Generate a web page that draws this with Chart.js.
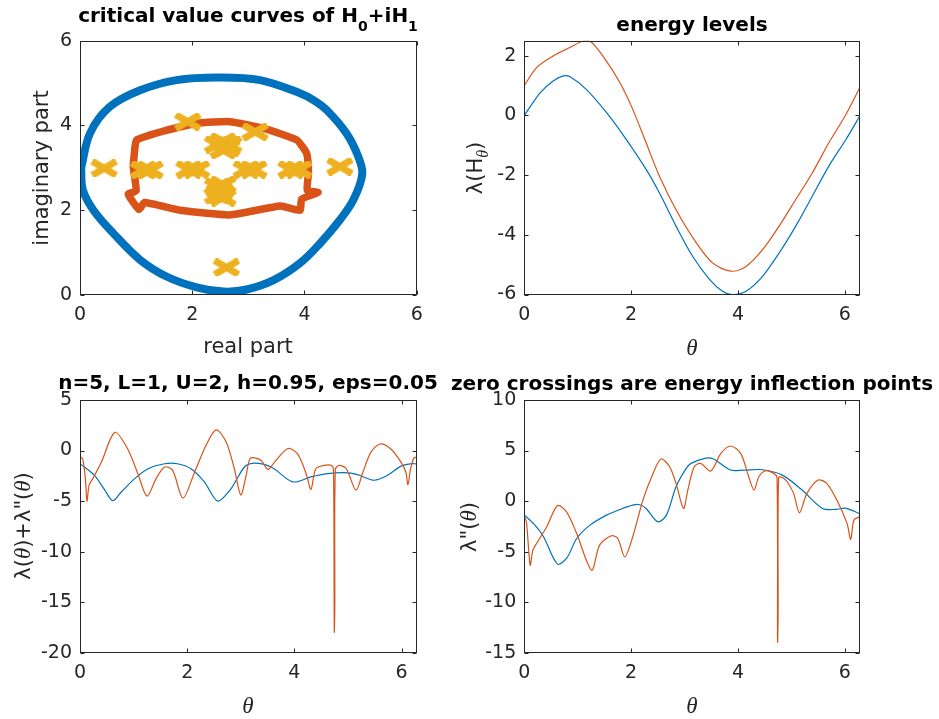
<!DOCTYPE html>
<html><head><meta charset="utf-8">
<script src="https://cdn.jsdelivr.net/npm/chart.js@4.4.1/dist/chart.umd.min.js"></script>
<style>
html,body{margin:0;padding:0;background:#fff;width:939px;height:719px;overflow:hidden}
canvas{position:absolute;left:0;top:0}
</style></head>
<body>
<canvas id="c1" width="939" height="719"></canvas>
<canvas id="c2" width="939" height="719"></canvas>
<canvas id="c3" width="939" height="719"></canvas>
<canvas id="c4" width="939" height="719"></canvas>
<script>
// ---------- DATA ----------
// Panel 1: critical value curves (real part, imaginary part)
const blueLoopX = [0.02,0.18,0.53,1.07,1.72,2.44,3.21,3.92,4.16,4.40,4.75,4.96,5.03,4.87,4.63,4.28,3.92,3.45,2.97,2.56,2.08,1.55,1.07,0.59,0.24,0.05,0.02];
const blueLoopY = [3.00,3.82,4.44,4.83,5.07,5.13,5.07,4.76,4.60,4.36,3.81,3.26,2.85,2.24,1.77,1.22,0.75,0.35,0.13,0.08,0.18,0.43,0.83,1.46,2.00,2.48,3.00];
const orangeLoopX = [0.98,1.01,1.55,2.08,2.67,3.27,3.86,4.04,4.07,4.05,4.24,3.95,3.92,3.57,2.67,1.78,1.15,1.05,0.86,1.00,0.95,0.98];
const orangeLoopY = [3.50,3.66,3.89,4.05,4.09,3.93,3.66,3.34,2.87,2.47,2.42,2.26,2.00,2.10,1.89,2.00,2.18,2.02,2.38,2.46,3.03,3.50];
const markX = [0.43,1.13,1.25,1.94,2.08,2.96,3.10,3.76,3.90,4.63,1.92,3.12,2.45,2.65,2.55,2.55,2.62,2.45,2.55,2.45,2.55,2.50,2.61];
const markY = [2.99,2.95,2.95,2.96,2.96,2.96,2.96,2.96,2.96,3.03,4.09,3.85,3.55,3.55,3.62,3.42,3.47,2.55,2.60,2.35,2.30,2.45,0.65];

// Panel 2: energy levels
const energyBlueX = [0,0.30,0.54,0.73,0.85,1.16,1.54,1.91,2.28,2.53,2.84,3.15,3.47,3.71,3.90,4.15,4.46,4.77,5.08,5.39,5.70,6.02,6.28];
const energyBlueY = [0,0.76,1.15,1.32,1.30,0.87,0.09,-0.81,-1.81,-2.60,-3.71,-4.72,-5.50,-5.89,-6.01,-5.89,-5.39,-4.61,-3.71,-2.71,-1.70,-0.81,-0.02];
const energyOrangeX = [0,0.23,0.54,0.85,1.10,1.23,1.47,1.79,2.03,2.28,2.53,2.84,3.22,3.53,3.87,4.15,4.46,4.77,5.08,5.39,5.70,6.02,6.28];
const energyOrangeY = [1.0,1.60,1.99,2.27,2.49,2.49,1.99,1.09,0.20,-0.92,-2.04,-3.16,-4.27,-4.95,-5.22,-5.06,-4.50,-3.71,-2.82,-1.93,-0.92,0.03,0.93];

// Panel 3: lambda + lambda''
const sumBlueX = [0,0.27,0.46,0.61,0.77,1.02,1.27,1.58,1.82,2.07,2.32,2.57,2.82,3.07,3.26,3.57,3.97,4.31,4.62,4.93,5.18,5.49,5.74,5.99,6.17,6.28];
const sumBlueY = [-1.31,-2.45,-3.90,-4.95,-4.10,-2.78,-1.80,-1.31,-1.31,-1.80,-3.10,-5.0,-3.76,-1.63,-1.24,-1.63,-3.10,-2.61,-2.29,-2.19,-2.39,-2.94,-2.45,-1.54,-1.31,-1.31];
const sumOrangeX = [0,0.05,0.10,0.13,0.17,0.24,0.40,0.65,0.89,1.08,1.25,1.42,1.58,1.73,1.92,2.14,2.35,2.54,2.73,2.88,3.00,3.10,3.17,3.26,3.38,3.51,3.63,3.88,4.06,4.22,4.31,4.40,4.56,4.69,4.73,4.745,4.755,4.765,4.84,4.97,5.15,5.28,5.43,5.60,5.80,5.99,6.08,6.12,6.17,6.23,6.28];
const sumOrangeY = [-0.65,-0.82,-2.78,-5.0,-3.43,-2.78,-1.14,1.80,0.16,-2.29,-4.50,-2.78,-1.63,-1.96,-4.70,-2.12,0.49,2.05,0.82,-1.80,-4.40,-2.45,-0.82,-0.72,-0.98,-1.86,-1.14,0.20,-0.33,-2.29,-3.84,-1.80,-1.47,-1.47,-1.86,-17.9,-15.5,-1.86,-1.47,-1.80,-3.92,-2.12,-0.16,0.65,0.16,-1.14,-2.12,-3.37,-1.80,-0.75,-0.65];

// Panel 4: lambda''
const d2BlueX = [0,0.17,0.36,0.62,0.80,0.98,1.23,1.54,1.79,2.03,2.16,2.28,2.50,2.66,2.84,3.03,3.12,3.40,3.55,3.86,4.11,4.46,4.83,5.20,5.58,5.83,6.01,6.28];
const d2BlueY = [-1.39,-2.21,-3.53,-6.24,-5.60,-3.70,-2.38,-1.39,-0.83,-0.40,-0.36,-0.73,-2.05,-1.39,1.42,3.23,3.73,4.25,4.13,3.07,3.07,3.10,2.57,1.09,-0.73,-0.82,-0.70,-1.25];
const d2OrangeX = [0,0.04,0.11,0.16,0.23,0.42,0.62,0.79,0.98,1.26,1.41,1.63,1.75,1.88,2.03,2.22,2.41,2.56,2.72,2.84,2.98,3.06,3.18,3.30,3.49,3.68,3.86,4.05,4.20,4.30,4.39,4.52,4.67,4.73,4.74,4.75,4.76,4.83,4.92,5.04,5.15,5.29,5.50,5.66,5.85,6.04,6.11,6.17,6.28];
const d2OrangeY = [-1.55,-2.05,-6.34,-4.85,-4.19,-2.54,-0.46,-1.06,-3.20,-6.83,-4.36,-3.43,-3.70,-5.51,-3.53,0.10,2.74,4.16,3.40,1.75,-0.73,1.09,3.40,3.73,2.97,4.72,5.45,4.72,2.41,1.09,2.41,3.00,2.74,2.34,-13.9,-11.6,2.34,2.34,1.91,0.76,-1.16,0.76,2.08,1.75,0.10,-2.21,-3.80,-1.88,-1.55];

// Tick values
const ticksP1X = [0,2,4,6], ticksP1Y = [0,2,4,6];
const ticksThetaX = [0,2,4,6];
const ticksP2Y = [-6,-4,-2,0,2];
const ticksP3Y = [-20,-15,-10,-5,0,5];
const ticksP4Y = [-15,-10,-5,0,5,10];

// ---------- STYLE ----------
const BLUE = '#0072BD', ORANGE = '#D95319', YELLOW = '#EDB120';
const AX = '#262626';
const SANS = "'DejaVu Sans', 'Liberation Sans', Arial, sans-serif";
const TICKFONT = { family: SANS, size: 19 };
const LBL = "21px " + SANS;
const TTL = "bold 20px " + SANS;
const TTLSUB = "bold 14px " + SANS;
const THETA = "italic 23px 'Liberation Serif', 'DejaVu Serif', serif";
const THETAS = "italic 16px 'Liberation Serif', 'DejaVu Serif', serif";
const LAM = "21px 'DejaVu Sans', sans-serif";

function pts(xs, ys) { return xs.map((x, i) => ({ x: x, y: ys[i] })); }

function xMarker() {
  const w = 28, h = 18, c = document.createElement('canvas');
  c.width = w; c.height = h;
  const g = c.getContext('2d');
  g.strokeStyle = YELLOW; g.lineWidth = 7;
  g.beginPath(); g.moveTo(2, 2); g.lineTo(w - 2, h - 2);
  g.moveTo(w - 2, 2); g.lineTo(2, h - 2); g.stroke();
  return c;
}

const matlabAxes = {
  id: 'matlabAxes',
  afterDatasetsDraw(chart) {
    const { ctx, chartArea: a, scales } = chart;
    const xs = scales.x, ys = scales.y;
    ctx.save();
    ctx.strokeStyle = AX; ctx.lineWidth = 1;
    const L = Math.round(a.left) + 0.5, R = Math.round(a.right) - 0.5, T = Math.round(a.top) + 0.5, B = Math.round(a.bottom) - 0.5;
    ctx.strokeRect(L, T, R - L, B - T);
    const tl = 4;
    ctx.beginPath();
    xs.ticks.forEach(t => {
      const p = Math.round(xs.getPixelForValue(t.value)) + 0.5;
      ctx.moveTo(p, B); ctx.lineTo(p, B - tl);
      ctx.moveTo(p, T); ctx.lineTo(p, T + tl);
    });
    ys.ticks.forEach(t => {
      const p = Math.round(ys.getPixelForValue(t.value)) + 0.5;
      ctx.moveTo(L, p); ctx.lineTo(L + tl, p);
      ctx.moveTo(R, p); ctx.lineTo(R - tl, p);
    });
    ctx.stroke();
    ctx.restore();
  }
};

function drawRich(ctx, segs, x, y, rot, color) {
  ctx.save();
  ctx.translate(x, y); ctx.rotate(rot);
  ctx.fillStyle = color; ctx.textAlign = 'left'; ctx.textBaseline = 'alphabetic';
  let total = 0;
  segs.forEach(s => { ctx.font = s.f; s.w = ctx.measureText(s.t).width; total += s.w; });
  let cx = -total / 2;
  segs.forEach(s => { ctx.font = s.f; ctx.fillText(s.t, cx, s.dy || 0); cx += s.w; });
  ctx.restore();
}

const richLabels = {
  id: 'richLabels',
  afterDraw(chart, args, o) {
    const ctx = chart.ctx;
    if (o.title) drawRich(ctx, o.title, o.tx, o.ty, 0, '#000');
    if (o.xlabel) drawRich(ctx, o.xlabel, o.xx, o.xy, 0, AX);
    if (o.ylabel) drawRich(ctx, o.ylabel, o.yx, o.yy, -Math.PI / 2, AX);
  }
};

function makeChart(id, geo, xr, yr, xticks, yticks, datasets, labels) {
  const yW = 70, xH = 40;
  return new Chart(document.getElementById(id), {
    type: 'scatter',
    data: { datasets: datasets },
    options: {
      responsive: false, animation: false, events: [],
      layout: { padding: { left: geo.L - yW, top: geo.T, right: 939 - geo.R, bottom: 719 - geo.B - xH } },
      plugins: { legend: { display: false }, tooltip: { enabled: false }, title: { display: false }, richLabels: labels },
      scales: {
        x: {
          type: 'linear', min: xr[0], max: xr[1],
          afterFit: s => { s.height = xH; },
          afterBuildTicks: s => { s.ticks = xticks.map(v => ({ value: v })); },
          grid: { display: false, drawTicks: false }, border: { display: false },
          ticks: { autoSkip: false, maxRotation: 0, padding: 9, color: AX, font: TICKFONT }
        },
        y: {
          type: 'linear', min: yr[0], max: yr[1],
          afterFit: s => { s.width = yW; },
          afterBuildTicks: s => { s.ticks = yticks.map(v => ({ value: v })); },
          grid: { display: false, drawTicks: false }, border: { display: false },
          ticks: { autoSkip: false, padding: 8, color: AX, font: TICKFONT }
        }
      }
    },
    plugins: [matlabAxes, richLabels]
  });
}

function line(xs, ys, color, w, order, tension) {
  return { data: pts(xs, ys), showLine: true, borderColor: color, borderWidth: w, pointRadius: 0,
           tension: tension, clip: 0, order: order, borderCapStyle: 'round', borderJoinStyle: 'round' };
}

const TWO_PI = 2 * Math.PI;
const thetaLbl = [{ t: 'θ', f: THETA }];

// Panel 1
makeChart('c1', { L: 80, R: 416.7, T: 40.7, B: 295 }, [0, 6], [0, 6], ticksP1X, ticksP1Y, [
  line(blueLoopX, blueLoopY, BLUE, 8, 3, 0.35),
  line(orangeLoopX, orangeLoopY, ORANGE, 7.5, 2, 0.15),
  { data: pts(markX, markY), pointStyle: xMarker(), pointRadius: 10, showLine: false, clip: 0, order: 1 }
], {
  title: [{ t: 'critical value curves of H', f: TTL }, { t: '0', f: TTLSUB, dy: 9 }, { t: '+iH', f: TTL }, { t: '1', f: TTLSUB, dy: 9 }],
  tx: 248, ty: 21.5,
  xlabel: [{ t: 'real part', f: LBL }], xx: 248, xy: 353,
  ylabel: [{ t: 'imaginary part', f: LBL }], yx: 48, yy: 168
});

// Panel 2
makeChart('c2', { L: 524.3, R: 860, T: 40.7, B: 294.5 }, [0, TWO_PI], [-6, 2.5], ticksThetaX, ticksP2Y, [
  line(energyBlueX, energyBlueY, BLUE, 1.2, 2, 0.3),
  line(energyOrangeX, energyOrangeY, ORANGE, 1.2, 1, 0.3)
], {
  title: [{ t: 'energy levels', f: TTL }], tx: 692, ty: 30.5,
  xlabel: thetaLbl, xx: 692, xy: 355,
  ylabel: [{ t: 'λ(H', f: LAM }, { t: 'θ', f: THETAS, dy: 6 }, { t: ')', f: LAM }], yx: 482, yy: 168
});

// Panel 3
makeChart('c3', { L: 80, R: 416.7, T: 400, B: 652.7 }, [0, TWO_PI], [-20, 5], ticksThetaX, ticksP3Y, [
  line(sumBlueX, sumBlueY, BLUE, 1.2, 2, 0.3),
  line(sumOrangeX, sumOrangeY, ORANGE, 1.2, 1, 0.3)
], {
  title: [{ t: 'n=5, L=1, U=2, h=0.95, eps=0.05', f: TTL }], tx: 248, ty: 389,
  xlabel: thetaLbl, xx: 248, xy: 713,
  ylabel: [{ t: 'λ(', f: LAM }, { t: 'θ', f: THETA }, { t: ')+λ"(', f: LAM }, { t: 'θ', f: THETA }, { t: ')', f: LAM }], yx: 30, yy: 526
});

// Panel 4
makeChart('c4', { L: 524.3, R: 860, T: 400, B: 652.7 }, [0, TWO_PI], [-15, 10], ticksThetaX, ticksP4Y, [
  line(d2BlueX, d2BlueY, BLUE, 1.2, 2, 0.3),
  line(d2OrangeX, d2OrangeY, ORANGE, 1.2, 1, 0.3)
], {
  title: [{ t: 'zero crossings are energy inflection points', f: TTL }], tx: 692, ty: 390,
  xlabel: thetaLbl, xx: 692, xy: 713,
  ylabel: [{ t: 'λ"(', f: LAM }, { t: 'θ', f: THETA }, { t: ')', f: LAM }], yx: 476, yy: 527
});
</script>
</body></html>
